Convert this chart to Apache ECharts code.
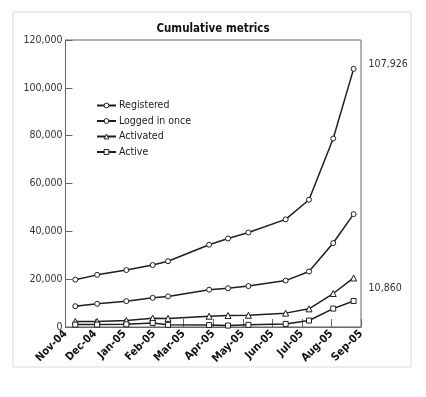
<!DOCTYPE html>
<html>
<head>
<meta charset="utf-8">
<script src="https://cdn.jsdelivr.net/npm/echarts@6/dist/echarts.min.js"></script>
<style>
  html, body { margin: 0; padding: 0; background: #fff; }
  #chart { width: 426px; height: 397px; }
</style>
</head>
<body>
<div id="chart"></div>
<script>
const elChart = document.getElementById('chart');

// Data
const monthLabels = ['Nov-04', 'Dec-04', 'Jan-05', 'Feb-05', 'Mar-05', 'Apr-05',
    'May-05', 'Jun-05', 'Jul-05', 'Aug-05', 'Sep-05'];

// position of each sample, in months after Nov-04
const sampleMonths = [0.33, 1.07, 2.06, 2.95, 3.47, 4.86, 5.5, 6.19, 7.45, 8.24, 9.06, 9.75];

const registered = [19800, 21800, 23800, 25900, 27500, 34400, 37000, 39500, 45000, 53200, 78800, 107926];
const loggedInOnce = [8700, 9700, 10800, 12200, 12800, 15600, 16200, 17100, 19400, 23200, 35100, 47200];
const activated = [2300, 2300, 2700, 3700, 3600, 4500, 4800, 4900, 5800, 7600, 14000, 20500];
const active = [1000, 1000, 1100, 1700, 900, 800, 600, 900, 1300, 2700, 7700, 10860];

const yTicks = [0, 20000, 40000, 60000, 80000, 100000, 120000];

// narrow face, asked for through font-stretch in the canvas font string
const FONT = '"DejaVu Sans", sans-serif';
const NARROW = 'condensed';
const INK = '#1e1e1e';

function fmt(v) {
    return v.toLocaleString('en-US');
}

function toPoints(values) {
    return values.map((v, i) => [sampleMonths[i], v]);
}

function makeSeries(name, values, symbol, endLabelOffset) {
    const s = {
        name: name,
        type: 'line',
        data: toPoints(values),
        symbol: symbol,
        symbolSize: symbol === 'triangle' ? 6 : 5,
        showAllSymbol: true,
        lineStyle: { color: INK, width: 1.5 },
        itemStyle: { color: '#fff', borderColor: INK, borderWidth: 1 },
        emphasis: { disabled: true },
    };
    if (endLabelOffset) {
        s.endLabel = {
            show: true,
            formatter: p => fmt(p.value[1]),
            offset: endLabelOffset,
            fontFamily: FONT,
            fontStyle: NARROW,
            fontSize: 10.5,
            color: '#333',
        };
    }
    return s;
}

const chart = echarts.init(elChart, null, { renderer: 'canvas' });

const option = {
    animation: false,
    backgroundColor: '#fff',

    title: {
        text: 'Cumulative metrics',
        left: 'center',
        top: 18,
        textStyle: { fontFamily: FONT, fontStyle: NARROW, fontWeight: 'bold', fontSize: 11.5, color: '#111' },
    },

    graphic: [{
        type: 'rect',
        shape: { x: 13, y: 12, width: 398, height: 355 },
        style: { fill: 'none', stroke: '#d8d8d8', lineWidth: 1 },
        silent: true,
        z: -1,
    }],

    grid: {
        left: 65.5,
        right: 65,
        top: 40,
        bottom: 70,
        show: true,
        borderColor: '#666',
        borderWidth: 1,
        backgroundColor: 'transparent',
    },

    legend: {
        orient: 'vertical',
        left: 91,
        top: 95,
        itemWidth: 19,
        itemHeight: 6,
        itemGap: 4.5,
        itemStyle: { color: '#fff', borderColor: INK, borderWidth: 1 },
        data: ['Registered', 'Logged in once', 'Activated', 'Active'],
        textStyle: { fontFamily: FONT, fontStyle: NARROW, fontSize: 10.5, color: '#222', padding: [0, 0, 0, -2] },
    },

    xAxis: {
        type: 'value',
        min: 0,
        max: monthLabels.length - 1,
        interval: 1,
        axisLine: { lineStyle: { color: '#666' } },
        axisTick: { inside: true, length: 8, lineStyle: { color: '#666' } },
        splitLine: { show: false },
        axisLabel: {
            rotate: 45,
            margin: 5,
            formatter: v => monthLabels[Math.round(v)] || '',
            fontFamily: FONT,
            fontStyle: NARROW,
            fontWeight: 'bold',
            fontSize: 11,
            color: '#111',
        },
    },

    yAxis: {
        type: 'value',
        min: yTicks[0],
        max: yTicks[yTicks.length - 1],
        interval: yTicks[1] - yTicks[0],
        axisLine: { show: true, lineStyle: { color: '#666' } },
        axisTick: { show: true, inside: true, length: 7, lineStyle: { color: '#666' } },
        splitLine: { show: false },
        axisLabel: {
            margin: 3,
            formatter: v => fmt(v),
            fontFamily: FONT,
            fontStyle: NARROW,
            fontSize: 10.5,
            color: '#333',
        },
    },

    series: [
        makeSeries('Registered', registered, 'circle', [7, -5]),
        makeSeries('Logged in once', loggedInOnce, 'circle'),
        makeSeries('Activated', activated, 'triangle'),
        makeSeries('Active', active, 'rect', [7, -13]),
    ],
};

chart.setOption(option);
</script>
</body>
</html>
